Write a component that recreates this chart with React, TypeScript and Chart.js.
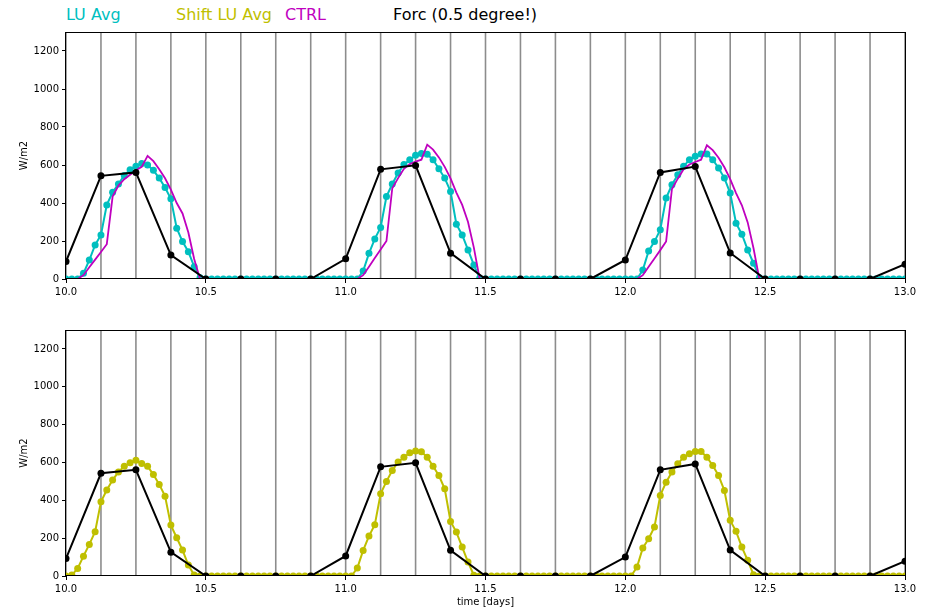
import React, { useEffect, useRef } from "react";
import { Chart, registerables } from "chart.js";

Chart.register(...registerables);

const FONT = "'DejaVu Sans', 'Liberation Sans', sans-serif";
Chart.defaults.font.family = FONT;

// ---------- data ----------
const forcTimes = [
  10.0, 10.125, 10.25, 10.375, 10.5, 10.625, 10.75, 10.875,
  11.0, 11.125, 11.25, 11.375, 11.5, 11.625, 11.75, 11.875,
  12.0, 12.125, 12.25, 12.375, 12.5, 12.625, 12.75, 12.875,
  13.0,
];
const forcValues = [
  92, 543, 561, 126, 0, 0, 0, 0,
  106, 577, 598, 136, 0, 0, 0, 0,
  100, 561, 592, 137, 0, 0, 0, 0,
  78,
];

const luAvgDay1 = [
  0, 0, 0, 30, 100, 179, 232, 390, 456, 500, 545, 575, 593, 608, 600, 572,
  531, 482, 422, 267, 197, 144, 65, 7, 0, 0, 0, 0, 0, 0, 0, 0,
  0, 0, 0, 0, 0, 0, 0, 0, 0, 0, 0, 0, 0, 0, 0, 0,
];
const luAvgDay2 = [
  0, 0, 0, 42, 135, 211, 271, 434, 500, 558, 602, 628, 651, 660, 656, 628,
  580, 531, 461, 288, 232, 153, 74, 4, 0, 0, 0, 0, 0, 0, 0, 0,
  0, 0, 0, 0, 0, 0, 0, 0, 0, 0, 0, 0, 0, 0, 0, 0,
];
const luAvgDay3 = [
  0, 0, 0, 47, 148, 197, 259, 426, 496, 549, 593, 628, 646, 658, 658, 628,
  584, 531, 452, 294, 236, 153, 83, 7, 0, 0, 0, 0, 0, 0, 0, 0,
  0, 0, 0, 0, 0, 0, 0, 0, 0, 0, 0, 0, 0, 0, 0, 0,
];
const luAvgEnd = [0];

const shiftDay1 = [
  0, 5, 40, 105, 167, 234, 392, 454, 507, 550, 580, 598, 612, 594, 580, 536,
  484, 422, 269, 202, 137, 58, 5, 0, 0, 0, 0, 0, 0, 0, 0, 0,
  0, 0, 0, 0, 0, 0, 0, 0, 0, 0, 0, 0, 0, 0, 0, 0,
];
const shiftDay2 = [
  0, 0, 42, 135, 211, 271, 434, 500, 558, 602, 628, 651, 660, 656, 628, 580,
  531, 461, 288, 232, 153, 74, 4, 0, 0, 0, 0, 0, 0, 0, 0, 0,
  0, 0, 0, 0, 0, 0, 0, 0, 0, 0, 0, 0, 0, 0, 0, 0,
];
const shiftDay3 = [
  0, 0, 47, 148, 197, 259, 426, 496, 549, 593, 628, 646, 658, 658, 628, 584,
  531, 452, 294, 236, 153, 83, 7, 0, 0, 0, 0, 0, 0, 0, 0, 0,
  0, 0, 0, 0, 0, 0, 0, 0, 0, 0, 0, 0, 0, 0, 0, 0,
];
const shiftEnd = [0];

const ctrlDay1 = [
  0, 0, 0, 20, 62, 102, 142, 183, 434, 492, 525, 549, 572, 590, 648, 620,
  578, 530, 470, 400, 345, 245, 105, 0, 0, 0, 0, 0, 0, 0, 0, 0,
  0, 0, 0, 0, 0, 0, 0, 0, 0, 0, 0, 0, 0, 0, 0, 0,
];
const ctrlDay2 = [
  0, 0, 0, 20, 65, 110, 155, 200, 478, 531, 580, 605, 618, 628, 707, 681,
  640, 590, 530, 455, 390, 300, 165, 0, 0, 0, 0, 0, 0, 0, 0, 0,
  0, 0, 0, 0, 0, 0, 0, 0, 0, 0, 0, 0, 0, 0, 0, 0,
];
const ctrlDay3 = [
  0, 0, 0, 20, 65, 108, 152, 198, 474, 528, 578, 603, 616, 628, 704, 678,
  638, 588, 526, 452, 388, 298, 162, 0, 0, 0, 0, 0, 0, 0, 0, 0,
  0, 0, 0, 0, 0, 0, 0, 0, 0, 0, 0, 0, 0, 0, 0, 0,
];
const ctrlEnd = [0];

const START_DAY = 10;
const STEPS_PER_DAY = 48; // half-hourly output

const luAvg = [...luAvgDay1, ...luAvgDay2, ...luAvgDay3, ...luAvgEnd];
const shiftLuAvg = [...shiftDay1, ...shiftDay2, ...shiftDay3, ...shiftEnd];
const ctrl = [...ctrlDay1, ...ctrlDay2, ...ctrlDay3, ...ctrlEnd];
const halfHourTimes = luAvg.map((_, i) => START_DAY + i / STEPS_PER_DAY);

const toXY = (xs: number[], ys: number[]) => ys.map((y, i) => ({ x: xs[i], y }));

const C_CYAN = "#00BFBF";
const C_YELLOW = "#BFBF00";
const C_MAGENTA = "#BF00BF";
const C_BLACK = "#000000";

// ---------- plugin: vertical 3-hourly lines + frame ----------
const framePlugin = {
  id: "frame",
  beforeDatasetsDraw(chart: any) {
    const { ctx, chartArea: a, scales } = chart;
    const x = scales.x;
    ctx.save();
    ctx.strokeStyle = "#8c8c8c";
    ctx.lineWidth = 1.6;
    for (const t of forcTimes) {
      const px = x.getPixelForValue(t);
      ctx.beginPath();
      ctx.moveTo(px, a.top);
      ctx.lineTo(px, a.bottom);
      ctx.stroke();
    }
    ctx.restore();
  },
  afterDraw(chart: any) {
    const { ctx, chartArea: a } = chart;
    ctx.save();
    ctx.strokeStyle = "#000";
    ctx.lineWidth = 1;
    ctx.strokeRect(
      Math.round(a.left) - 0.5,
      Math.round(a.top) + 0.5,
      Math.round(a.right - a.left) + 1,
      Math.round(a.bottom - a.top) - 1
    );
    ctx.restore();
  },
};

function makeOptions(xHeight: number, xTitle: string | null) {
  return {
    responsive: false,
    maintainAspectRatio: false,
    animation: false as const,
    layout: { padding: { top: 32, right: 33, left: 0, bottom: 0 } },
    plugins: { legend: { display: false }, tooltip: { enabled: false } },
    scales: {
      x: {
        type: "linear" as const,
        min: 10,
        max: 13,
        afterFit: (s: any) => {
          s.height = xHeight;
        },
        ticks: {
          stepSize: 0.5,
          autoSkip: false,
          maxRotation: 0,
          padding: 3,
          color: "#000",
          font: { size: 10, family: FONT },
          callback: (v: any) => Number(v).toFixed(1),
        },
        grid: {
          display: true,
          drawOnChartArea: false,
          drawTicks: true,
          tickLength: 4,
          color: "#000",
          lineWidth: 1,
        },
        border: { display: false },
        title: {
          display: !!xTitle,
          text: xTitle || "",
          color: "#000",
          font: { size: 10, family: FONT },
          padding: { top: 0, bottom: 5 },
        },
      },
      y: {
        type: "linear" as const,
        min: 0,
        max: 1300,
        afterFit: (s: any) => {
          s.width = 66;
        },
        ticks: {
          stepSize: 200,
          includeBounds: false,
          padding: 3,
          color: "#000",
          font: { size: 10, family: FONT },
          callback: (v: any) => String(Math.round(Number(v))),
        },
        grid: {
          display: true,
          drawOnChartArea: false,
          drawTicks: true,
          tickLength: 4,
          color: "#000",
          lineWidth: 1,
        },
        border: { display: false },
        title: {
          display: true,
          text: "W/m2",
          color: "#000",
          font: { size: 10, family: FONT },
          padding: { top: 18, bottom: 0 },
        },
      },
    },
  };
}

function lineDs(label: string, data: any[], color: string, order: number, markers: boolean, width = 2) {
  return {
    label,
    data,
    borderColor: color,
    backgroundColor: color,
    borderWidth: width,
    pointRadius: markers ? 3.5 : 0,
    pointBorderWidth: 0,
    pointBackgroundColor: color,
    pointHoverRadius: 0,
    tension: 0,
    fill: false,
    clip: 0,
    order,
  };
}

export default function App() {
  const topRef = useRef<HTMLCanvasElement>(null);
  const botRef = useRef<HTMLCanvasElement>(null);

  useEffect(() => {
    const top = new Chart(topRef.current as HTMLCanvasElement, {
      type: "line",
      data: {
        datasets: [
          lineDs("Forc (0.5 degree!)", toXY(forcTimes, forcValues), C_BLACK, 0, true),
          lineDs("CTRL", toXY(halfHourTimes, ctrl), C_MAGENTA, 1, false, 1.8),
          lineDs("LU Avg", toXY(halfHourTimes, luAvg), C_CYAN, 2, true),
        ],
      },
      options: makeOptions(19, null) as any,
      plugins: [framePlugin],
    });
    const bot = new Chart(botRef.current as HTMLCanvasElement, {
      type: "line",
      data: {
        datasets: [
          lineDs("Forc (0.5 degree!)", toXY(forcTimes, forcValues), C_BLACK, 0, true),
          lineDs("Shift LU Avg", toXY(halfHourTimes, shiftLuAvg), C_YELLOW, 1, true),
        ],
      },
      options: makeOptions(37, "time [days]") as any,
      plugins: [framePlugin],
    });
    return () => {
      top.destroy();
      bot.destroy();
    };
  }, []);

  const titleStyle = (left: number, color: string): React.CSSProperties => ({
    position: "absolute",
    left,
    top: 6,
    fontFamily: FONT,
    fontSize: 16,
    lineHeight: "18px",
    color,
    whiteSpace: "nowrap",
  });

  return (
    <div
      style={{
        position: "absolute",
        left: 0,
        top: 0,
        width: 938,
        height: 613,
        background: "#ffffff",
        overflow: "hidden",
      }}
    >
      <div style={titleStyle(66, C_CYAN)}>LU Avg</div>
      <div style={titleStyle(176, C_YELLOW)}>Shift LU Avg</div>
      <div style={titleStyle(285, C_MAGENTA)}>CTRL</div>
      <div style={titleStyle(393, "#000")}>Forc (0.5 degree!)</div>
      <canvas
        ref={topRef}
        width={938}
        height={298}
        style={{ position: "absolute", left: 0, top: 0, display: "block" }}
      />
      <canvas
        ref={botRef}
        width={938}
        height={315}
        style={{ position: "absolute", left: 0, top: 298, display: "block" }}
      />
    </div>
  );
}
